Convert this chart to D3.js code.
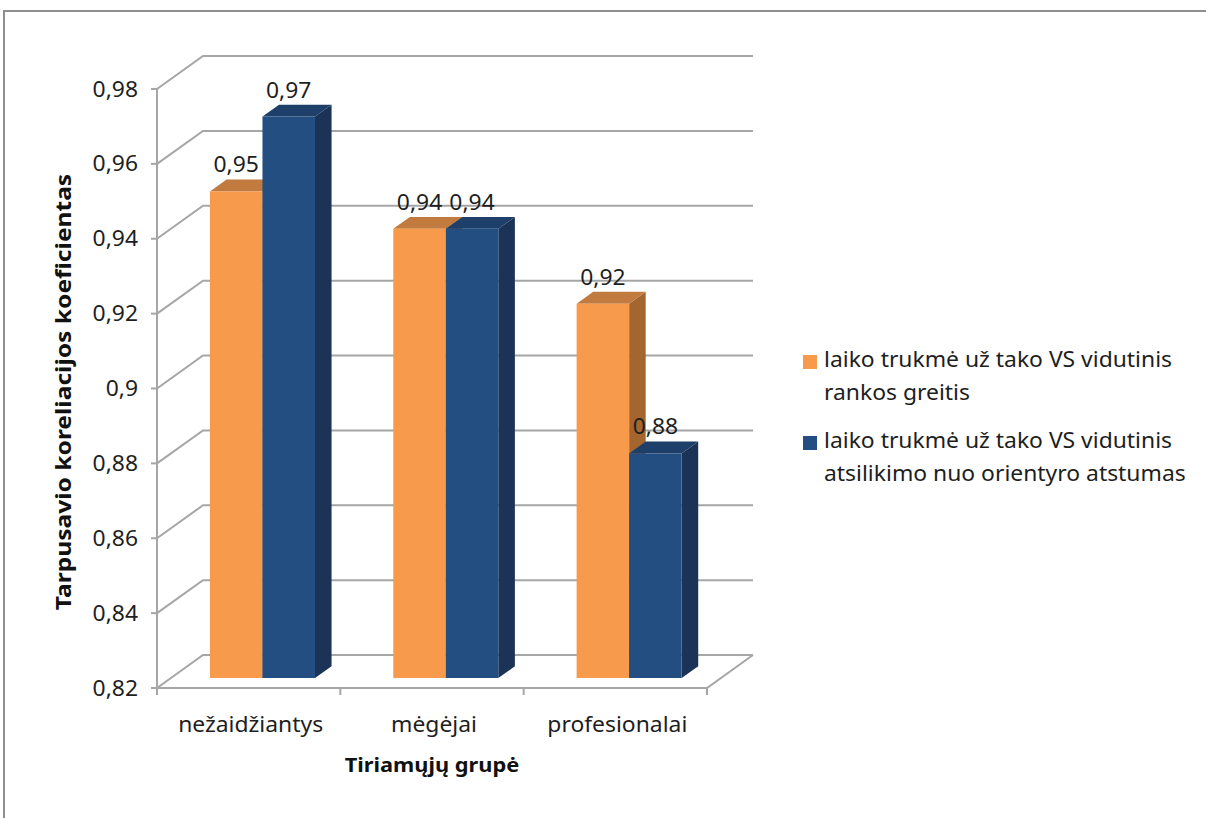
<!DOCTYPE html>
<html>
<head>
<meta charset="utf-8">
<script src="https://cdn.jsdelivr.net/npm/d3@7"></script>
<style>
  html, body { margin: 0; padding: 0; background: #fff; }
  svg { display: block; font-family: "Noto Sans", "Open Sans", sans-serif; }
</style>
</head>
<body>
<svg id="chart" width="1206" height="818"></svg>
<script>
// Groups, series and their correlation coefficients
const categories = ["nežaidžiantys", "mėgėjai", "profesionalai"];
const seriesNames = [
  ["laiko trukmė už tako VS vidutinis", "rankos greitis"],
  ["laiko trukmė už tako VS vidutinis", "atsilikimo nuo orientyro atstumas"]
];
const seriesA = [0.95, 0.94, 0.92];
const seriesB = [0.97, 0.94, 0.88];
const tickValues = [0.82, 0.84, 0.86, 0.88, 0.9, 0.92, 0.94, 0.96, 0.98];
const tickLabels = ["0,82", "0,84", "0,86", "0,88", "0,9", "0,92", "0,94", "0,96", "0,98"];

const palette = [
  { front: "#F79A4C", top: "#C27B3E", side: "#A5652F" },
  { front: "#234E82", top: "#1D3F69", side: "#1B3357" }
];

const svg = d3.select("#chart");
const SX = 1.09; // horizontal stretch applied to text

// Text helper: anchored, horizontally stretched label
function label(g, x, y, s, opts = {}) {
  const rot = opts.rotate ? ` rotate(${opts.rotate})` : "";
  return g.append("text")
    .attr("transform", `translate(${x},${y})${rot} scale(${opts.sx || SX},1)`)
    .attr("text-anchor", opts.anchor || "start")
    .attr("font-size", opts.size || 21)
    .attr("font-weight", opts.weight || "normal")
    .attr("fill", opts.fill || "#1e1e1e")
    .text(s);
}

// Outer chart frame
svg.append("path").attr("d", "M4,818 L4,11 L1206,11")
  .attr("fill", "none").attr("stroke", "#8f8f8f").attr("stroke-width", 2);

// Front plane scales
const y = d3.scaleLinear().domain([0.82, 0.98]).range([688, 89]);
const x = d3.scaleBand().domain(categories).range([157, 707])
  .paddingInner(0.427).paddingOuter(0.2135);
const xs = d3.scaleBand().domain([0, 1]).range([0, x.bandwidth()]);

// Oblique depth vector of the floor and the bar slab inside it
const D = { x: 46, y: -33 };
const fFront = 0.30, fBack = 0.66;
const proj = (px, py, f) => [px + D.x * f, py + D.y * f];

const gridColor = "#a6a6a6";
const grid = svg.append("g").attr("fill", "none").attr("stroke", gridColor).attr("stroke-width", 2);

// Left wall diagonals + back wall gridlines
tickValues.forEach(v => {
  const [bx, by] = proj(157, y(v), 1);
  grid.append("path").attr("d", `M157,${y(v)} L${bx},${by} L${707 + D.x},${by}`);
});
// Floor front edge and right edge
const [frx, fry] = proj(707, y(0.82), 1);
grid.append("path").attr("d", `M157,${y(0.82)} L707,${y(0.82)} L${frx},${fry}`);
// Front vertical axis
grid.append("line").attr("x1", 157).attr("x2", 157).attr("y1", y(0.98)).attr("y2", y(0.82));

// Axis ticks
tickValues.forEach(v => {
  grid.append("line").attr("x1", 151).attr("x2", 157).attr("y1", y(v)).attr("y2", y(v));
});
const xTicks = [157].concat(categories.map(c => x(c) + x.bandwidth() / 2 + x.step() / 2));
xTicks.forEach(t => {
  grid.append("line").attr("x1", t).attr("x2", t).attr("y1", y(0.82)).attr("y2", y(0.82) + 7);
});

// Y tick labels
const yLab = svg.append("g");
tickValues.forEach((v, i) => label(yLab, 138, y(v) + 7.5, tickLabels[i], { anchor: "end" }));

// 3D bars
const bars = svg.append("g");
const labels = svg.append("g");
const fmt = v => d3.format(".2f")(v).replace(".", ",");

categories.forEach((c, ci) => {
  [seriesA, seriesB].forEach((vals, si) => {
    const v = vals[ci];
    const x0 = x(c) + xs(si), x1 = x0 + xs.bandwidth();
    const yb = y(0.82), yt = y(v);
    const f0 = proj(x0, yt, fFront), f1 = proj(x1, yt, fFront);
    const fb0 = proj(x0, yb, fFront), fb1 = proj(x1, yb, fFront);
    const k0 = proj(x0, yt, fBack), k1 = proj(x1, yt, fBack);
    const kb1 = proj(x1, yb, fBack);
    const col = palette[si];
    // side face
    bars.append("path").attr("fill", col.side)
      .attr("d", `M${f1} L${k1} L${kb1} L${fb1}Z`);
    // top face
    bars.append("path").attr("fill", col.top)
      .attr("d", `M${f0} L${k0} L${k1} L${f1}Z`);
    // front face
    bars.append("path").attr("fill", col.front)
      .attr("d", `M${f0} L${f1} L${fb1} L${fb0}Z`);
    label(labels, (f0[0] + f1[0]) / 2, f0[1] - 19, fmt(v), { anchor: "middle" });
  });
});

// Category labels
const xLab = svg.append("g");
categories.forEach(c => label(xLab, x(c) + x.bandwidth() / 2 + 2, 732, c, { anchor: "middle" }));

// Axis titles
label(svg, 432, 772, "Tiriamųjų grupė", { anchor: "middle", size: 20, weight: "bold", fill: "#111" });
label(svg, 71, 392, "Tarpusavio koreliacijos koeficientas",
  { anchor: "middle", size: 21, weight: "bold", fill: "#111", rotate: -90, sx: 1.17 });

// Legend
const legend = svg.append("g");
const legendTop = [355, 436];
seriesNames.forEach((lines, i) => {
  legend.append("rect").attr("x", 803).attr("y", legendTop[i]).attr("width", 14).attr("height", 14)
    .attr("fill", palette[i].front);
  lines.forEach((ln, j) => label(legend, 824, legendTop[i] + 12 + j * 33, ln));
});
</script>
</body>
</html>
